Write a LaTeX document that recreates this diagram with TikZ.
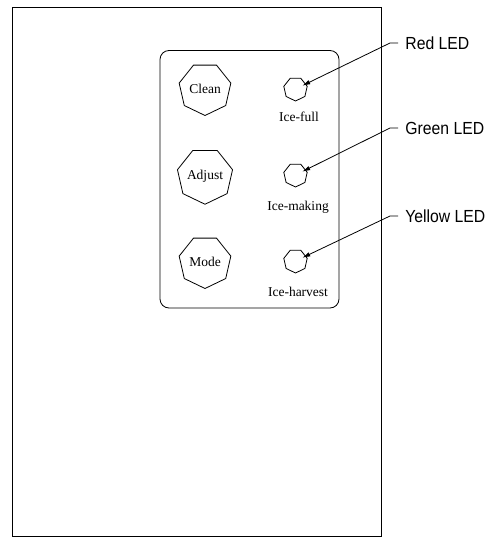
\documentclass[tikz,border=0pt]{standalone}
\usepackage{fontspec}
\setmainfont{Liberation Serif}
\newfontfamily\calloutfont[FakeStretch=0.9]{Liberation Sans}
\usetikzlibrary{shapes.geometric,arrows.meta}
\tikzset{every picture/.style={line width=0.8bp}}
\tikzset{button/.style={draw,regular polygon,regular polygon sides=7,shape border rotate=180,
                        minimum size=53bp,inner sep=0pt,font=\fontsize{13.5bp}{14bp}\selectfont}}
\tikzset{led/.style={draw,regular polygon,regular polygon sides=7,shape border rotate=180,
                     minimum size=24bp,inner sep=0pt}}
\tikzset{ledname/.style={anchor=base,inner sep=0pt,font=\fontsize{13.5bp}{14bp}\selectfont}}
\tikzset{callout/.style={anchor=west,inner xsep=7bp,inner ysep=0pt,font=\calloutfont\fontsize{17.5bp}{18bp}\selectfont}}
\tikzset{leader/.style={-{Latex[length=8bp,width=4.5bp]},shorten >=7.5bp}}

\begin{document}
\begin{tikzpicture}[x=1bp,y=-1bp]

        \useasboundingbox (0,0) rectangle (496,539);

        % cabinet and control panel
        \draw (12,7) rectangle (381.5,536);
        \draw[rounded corners=9bp] (160,50.5) rectangle (339,308);

        % push buttons
        \node [button] (clean) at (205,89) {Clean};
        \node [button] (adjust) at (205,176) {Adjust};
        \node [button] (mode) at (205,262) {Mode};

        % indicator lamps
        \node [led] (full) at (295.5,89) {};
        \node [led] (making) at (295.5,175) {};
        \node [led] (harvest) at (295.5,261) {};

        \node [ledname] (fulltext) at (299,122) {Ice-full};
        \node [ledname] (makingtext) at (298,211) {Ice-making};
        \node [ledname] (harvesttext) at (298,296) {Ice-harvest};

        % lamp colours
        \node [callout] (red) at (398,43) {Red LED};
        \node [callout] (green) at (398,128) {Green LED};
        \node [callout] (yellow) at (398,216) {Yellow LED};

        \coordinate (redbend) at (390,43);
        \coordinate (greenbend) at (390,128);
        \coordinate (yellowbend) at (390,216);

        \draw [leader] (red.west) -- (redbend) -- (full.center);
        \draw [leader] (green.west) -- (greenbend) -- (making.center);
        \draw [leader] (yellow.west) -- (yellowbend) -- (harvest.center);

\end{tikzpicture}
\end{document}
